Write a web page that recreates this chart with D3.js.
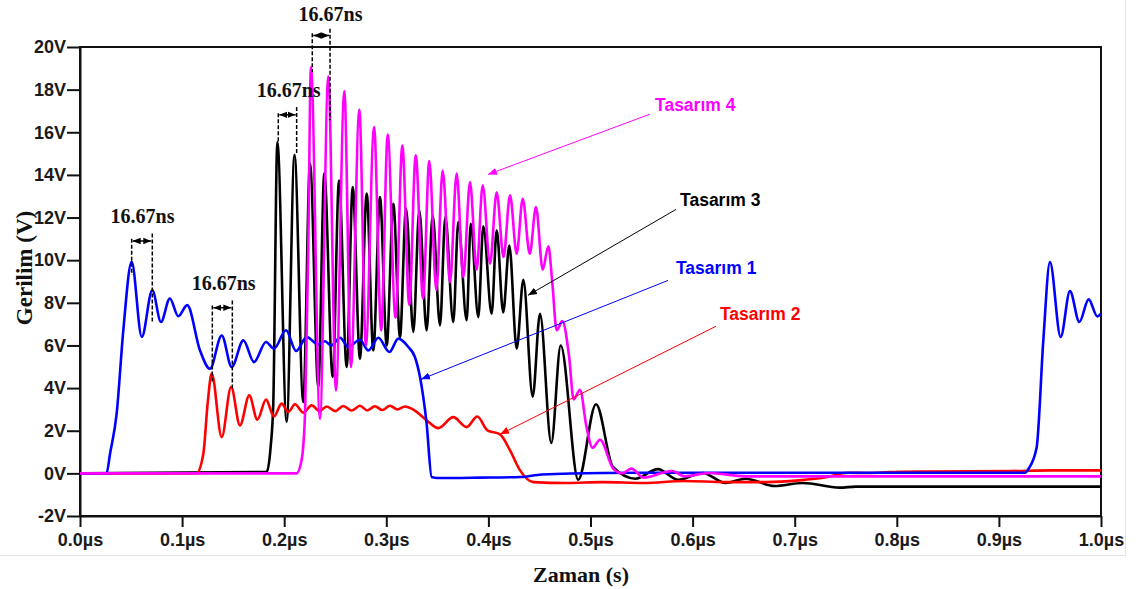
<!DOCTYPE html>
<html>
<head>
<meta charset="utf-8">
<script src="https://cdn.jsdelivr.net/npm/d3@7/dist/d3.min.js"></script>
<style>
  html, body { margin: 0; padding: 0; background: #fff; }
  svg { display: block; }
</style>
</head>
<body>
<svg id="chart" width="1136" height="589"></svg>
<script>
// Voltage waveforms: [time (µs), voltage (V)]
const tasarim1 = [
  [0, 0], [0.026, 0], [0.0294, 0.92], [0.0359, 2.8], [0.0424, 6.7], [0.0506, 9.92],
  [0.0605, 6.4], [0.0708, 8.59], [0.0793, 7.1], [0.088, 8.2], [0.0963, 7.37], [0.105, 7.89],
  [0.1175, 5.77], [0.1273, 4.91], [0.1388, 6.47], [0.1486, 4.99], [0.160, 6.24], [0.1704, 5.22],
  [0.1822, 6.16], [0.190, 5.85], [0.2018, 6.71], [0.2116, 5.74], [0.222, 6.39], [0.2334, 6.05],
  [0.240, 6.2], [0.246, 6.0], [0.2547, 6.36], [0.2628, 5.93], [0.2742, 6.27], [0.2824, 5.77],
  [0.2922, 6.36], [0.303, 5.69], [0.3118, 6.32], [0.3216, 5.93], [0.328, 5.46], [0.333, 4.52],
  [0.3395, 2.33], [0.3444, -0.17], [0.35, -0.22], [0.392, -0.2], [0.432, -0.17], [0.452, -0.05],
  [0.512, 0.02], [0.6, 0.03], [0.75, 0.03], [0.926, 0.03], [0.9288, 0.2], [0.937, 1.23],
  [0.9435, 6.24], [0.950, 9.91], [0.9605, 6.4], [0.9696, 8.55], [0.9788, 7.1], [0.9879, 8.16],
  [0.9964, 7.36], [1.0, 7.49]
];

const tasarim2 = [
  [0, 0], [0.114, 0], [0.1208, 0.92], [0.125, 3.27], [0.129, 4.68], [0.1388, 1.70],
  [0.148, 4.05], [0.1567, 2.25], [0.1658, 3.66], [0.1737, 2.52], [0.1822, 3.46], [0.190, 2.67],
  [0.1975, 3.27], [0.204, 2.88], [0.2106, 3.24], [0.2187, 2.85], [0.2269, 3.19], [0.2345, 2.92],
  [0.2416, 3.14], [0.2500, 2.92], [0.2579, 3.16], [0.2660, 2.95], [0.2742, 3.17], [0.2815, 2.95],
  [0.2889, 3.15], [0.2960, 2.97], [0.3036, 3.17], [0.3110, 3.0], [0.3183, 3.14], [0.3265, 2.99],
  [0.3395, 2.49], [0.351, 2.12], [0.3656, 2.64], [0.3787, 2.17], [0.3891, 2.67], [0.399, 2.02],
  [0.4114, 1.83], [0.4212, 1.08], [0.431, 0.14], [0.444, -0.41], [0.4766, -0.45], [0.512, -0.41],
  [0.552, -0.45], [0.592, -0.36], [0.632, -0.41], [0.672, -0.41], [0.704, -0.33], [0.732, -0.17],
  [0.752, 0.03], [0.772, 0.02], [0.792, 0.06], [0.832, 0.09], [0.912, 0.11], [0.952, 0.14],
  [1.0, 0.14]
];

const tasarim3 = [
  [0, 0], [0.1828, 0.06], [0.1867, 1.23], [0.1893, 3.27], [0.1933, 15.54], [0.2024, 2.41],
  [0.2101, 14.94], [0.2187, 3.35], [0.2253, 14.53], [0.2334, 4.05], [0.2393, 14.09], [0.2475, 4.52],
  [0.2537, 13.74], [0.2612, 4.99], [0.2671, 13.43], [0.2742, 5.38], [0.2808, 13.12], [0.2873, 5.77],
  [0.2938, 12.96], [0.3004, 6.0], [0.3069, 12.65], [0.3134, 6.39], [0.3193, 12.42], [0.3265, 6.63],
  [0.3323, 12.34], [0.3395, 6.71], [0.3454, 12.1], [0.3526, 6.94], [0.3578, 12.02], [0.3656, 7.1],
  [0.3705, 11.79], [0.3787, 7.18], [0.3827, 11.71], [0.3901, 7.33], [0.395, 11.59], [0.4032, 7.49],
  [0.4081, 11.4], [0.4145, 7.55], [0.4205, 10.69], [0.4277, 5.85], [0.4342, 9.08], [0.4434, 3.6],
  [0.4505, 7.49], [0.4616, 1.43], [0.4708, 6.0], [0.488, -0.3], [0.5054, 3.24], [0.522, 0.3],
  [0.544, -0.25], [0.566, 0.2], [0.586, -0.3], [0.61, 0.02], [0.632, -0.45], [0.652, -0.25],
  [0.68, -0.59], [0.708, -0.45], [0.744, -0.67], [0.76, -0.62], [1.0, -0.62]
];

const tasarim4 = [
  [0, 0], [0.2122, 0], [0.217, 0.61], [0.2204, 2.8], [0.2235, 10.5], [0.2262, 19.06],
  [0.235, 2.56], [0.2432, 18.62], [0.2507, 3.89], [0.2589, 17.93], [0.2654, 4.99], [0.2736, 17.06],
  [0.280, 6.0], [0.288, 16.24], [0.295, 6.7], [0.3014, 15.89], [0.309, 7.3], [0.3157, 15.38],
  [0.3225, 7.9], [0.3288, 14.92], [0.336, 8.2], [0.3421, 14.65], [0.349, 8.6], [0.3552, 14.21],
  [0.3624, 8.97], [0.3689, 14.06], [0.3754, 9.2], [0.382, 13.66], [0.3885, 9.55], [0.3944, 13.51],
  [0.4016, 9.84], [0.4081, 13.19], [0.4148, 10.15], [0.4212, 13.04], [0.4277, 10.3], [0.4336, 12.88],
  [0.4405, 10.3], [0.4466, 12.49], [0.4532, 9.55], [0.4587, 10.65], [0.4625, 9.0], [0.4669, 6.71],
  [0.4724, 7.14], [0.479, 5.5], [0.4835, 3.47], [0.4897, 3.92], [0.496, 2.2], [0.5021, 1.2],
  [0.5093, 1.58], [0.5223, 0.22], [0.531, 0.0], [0.540, 0.22], [0.552, -0.2], [0.58, 0.11],
  [0.592, -0.14], [0.616, 0.02], [0.652, -0.14], [1.0, -0.14]
];

const xTicks = [0, 0.1, 0.2, 0.3, 0.4, 0.5, 0.6, 0.7, 0.8, 0.9, 1.0];
const yTicks = [-2, 0, 2, 4, 6, 8, 10, 12, 14, 16, 18, 20];

// Period markers: two times (µs), arrow level, dashed-line extents (V) and label level
const periodMarks = [
  { t1: 0.0506, t2: 0.0708, arrowV: 10.9, top1: 11.0, top2: 11.25, bot1: 9.3, bot2: 7.05, textT: 0.0612, textV: 11.73 },
  { t1: 0.1296, t2: 0.1492, arrowV: 7.77, top1: 7.88, top2: 8.11, bot1: 4.22, bot2: 3.89, textT: 0.1407, textV: 8.58 },
  { t1: 0.1942, t2: 0.2122, arrowV: 16.82, top1: 16.89, top2: 17.18, bot1: 15.54, bot2: 14.96, textT: 0.2044, textV: 17.65 },
  { t1: 0.2275, t2: 0.2449, arrowV: 20.54, top1: 20.64, top2: 20.86, bot1: 18.82, bot2: 16.56, textT: 0.2454, textV: 21.2 }
];
const periodLabel = "16.67ns";

// Series names with label anchor and pointer target
const seriesLabels = [
  { name: "Tasarım 4", color: "#ff00ff", data: tasarim4, lt: 0.5632, lv: 16.98, ft: 0.5583, fv: 16.85, tt: 0.3996, tv: 14.02 },
  { name: "Tasarım 3", color: "#000000", data: tasarim3, lt: 0.5877, lv: 12.52, ft: 0.5837, fv: 12.38, tt: 0.4388, tv: 8.35 },
  { name: "Tasarım 1", color: "#0000ff", data: tasarim1, lt: 0.5837, lv: 9.33, ft: 0.5759, fv: 9.05, tt: 0.334, tv: 4.41 },
  { name: "Tasarım 2", color: "#ff0000", data: tasarim2, lt: 0.6268, lv: 7.18, ft: 0.6229, fv: 6.9, tt: 0.4114, tv: 1.83 }
];

const svg = d3.select("#chart");
const plotLeft = 80, plotRight = 1101, plotTop = 47, plotBottom = 516;

const x = d3.scaleLinear().domain([0, 1]).range([plotLeft, plotRight]);
const y = d3.scaleLinear().domain([-2, 20]).range([plotBottom, plotTop]);

// faint outer border of the figure
svg.append("path")
  .attr("d", `M0,555.5 H1125.5 V0`)
  .attr("fill", "none").attr("stroke", "#e4e4e4").attr("stroke-width", 1);

const defs = svg.append("defs");
function marker(id, color, size) {
  defs.append("marker")
    .attr("id", id)
    .attr("viewBox", "0 0 10 10")
    .attr("refX", 10).attr("refY", 5)
    .attr("markerWidth", size).attr("markerHeight", size)
    .attr("markerUnits", "userSpaceOnUse")
    .attr("orient", "auto-start-reverse")
    .append("path").attr("d", "M0,1 L10,5 L0,9 Z").attr("fill", color);
}
marker("arrK", "#000", 8);
seriesLabels.forEach((s, i) => marker("ptr" + i, s.color, 9));

// plot frame
svg.append("rect")
  .attr("x", plotLeft).attr("y", plotTop)
  .attr("width", plotRight - plotLeft).attr("height", plotBottom - plotTop)
  .attr("fill", "none").attr("stroke", "#111").attr("stroke-width", 2);

const tickFont = "'Liberation Sans', Arial, sans-serif";

const yAxis = svg.append("g")
  .attr("transform", `translate(${plotLeft},0)`)
  .call(d3.axisLeft(y).tickValues(yTicks).tickFormat(d => d + "V").tickSize(13).tickSizeOuter(0).tickPadding(1));
const xAxis = svg.append("g")
  .attr("transform", `translate(0,${plotBottom})`)
  .call(d3.axisBottom(x).tickValues(xTicks).tickFormat(d => d3.format(".1f")(d) + "µs").tickSize(11).tickSizeOuter(0).tickPadding(6));

[yAxis, xAxis].forEach(g => {
  g.select(".domain").attr("stroke", "#111").attr("stroke-width", 2);
  g.selectAll(".tick line").attr("stroke", "#111").attr("stroke-width", 2);
  g.selectAll(".tick text")
    .attr("fill", "#1a1a1a")
    .style("font-family", tickFont)
    .style("font-weight", "bold")
    .style("font-size", "18px");
});

// axis titles
const titleFont = "'Liberation Serif', 'Times New Roman', serif";
svg.append("text")
  .attr("transform", `translate(32,268) rotate(-90)`)
  .attr("text-anchor", "middle")
  .style("font-family", titleFont).style("font-weight", "bold").style("font-size", "23px")
  .attr("fill", "#111")
  .text("Gerilim (V)");
svg.append("text")
  .attr("x", 581).attr("y", 582)
  .attr("text-anchor", "middle")
  .style("font-family", titleFont).style("font-weight", "bold").style("font-size", "22px")
  .attr("fill", "#111")
  .text("Zaman (s)");

// waveforms
const line = d3.line()
  .x(d => x(d[0]))
  .y(d => y(d[1]))
  .curve(d3.curveMonotoneX);

const drawOrder = [1, 3, 2, 0]; // black, red, blue, magenta
drawOrder.forEach(i => {
  const s = seriesLabels[i];
  svg.append("path")
    .datum(s.data)
    .attr("fill", "none")
    .attr("stroke", s.color)
    .attr("stroke-width", 2.6)
    .attr("stroke-linejoin", "round")
    .attr("d", line);
});

// period markers
const marks = svg.append("g");
periodMarks.forEach(m => {
  marks.append("line")
    .attr("x1", x(m.t1)).attr("x2", x(m.t1))
    .attr("y1", y(m.top1)).attr("y2", y(m.bot1))
    .attr("stroke", "#000").attr("stroke-width", 1.5).attr("stroke-dasharray", "4,2");
  marks.append("line")
    .attr("x1", x(m.t2)).attr("x2", x(m.t2))
    .attr("y1", y(m.top2)).attr("y2", y(m.bot2))
    .attr("stroke", "#000").attr("stroke-width", 1.5).attr("stroke-dasharray", "4,2");
  marks.append("line")
    .attr("x1", x(m.t1) + 1).attr("x2", x(m.t2) - 1)
    .attr("y1", y(m.arrowV)).attr("y2", y(m.arrowV))
    .attr("stroke", "#000").attr("stroke-width", 1.5)
    .attr("marker-start", "url(#arrK)").attr("marker-end", "url(#arrK)");
  marks.append("text")
    .attr("x", x(m.textT)).attr("y", y(m.textV))
    .attr("text-anchor", "middle")
    .style("font-family", titleFont).style("font-weight", "bold").style("font-size", "20px")
    .attr("fill", "#111")
    .text(periodLabel);
});

// series labels with pointers
seriesLabels.forEach((s, i) => {
  svg.append("line")
    .attr("x1", x(s.ft)).attr("y1", y(s.fv))
    .attr("x2", x(s.tt)).attr("y2", y(s.tv))
    .attr("stroke", s.color).attr("stroke-width", 1)
    .attr("marker-end", `url(#ptr${i})`);
  svg.append("text")
    .attr("x", x(s.lt)).attr("y", y(s.lv))
    .style("font-family", tickFont).style("font-weight", "bold").style("font-size", "17.5px")
    .attr("fill", s.color)
    .text(s.name);
});
</script>
</body>
</html>
